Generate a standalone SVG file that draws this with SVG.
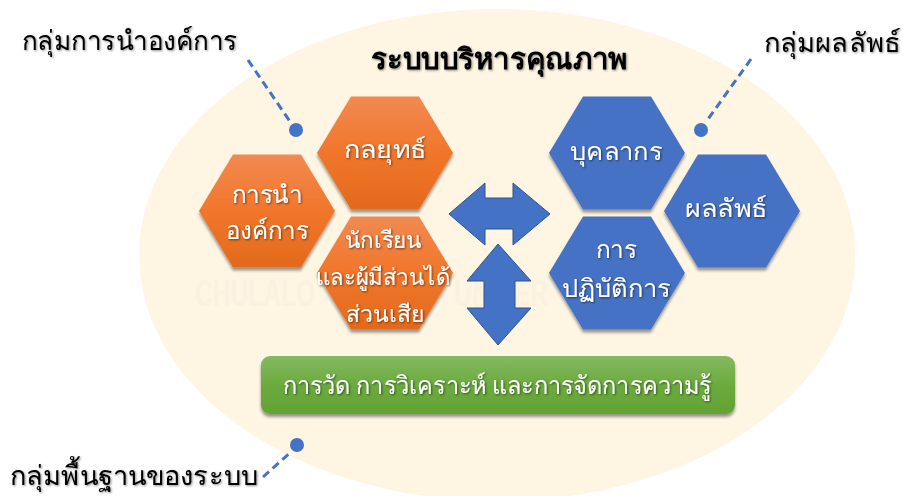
<svg xmlns="http://www.w3.org/2000/svg" width="903" height="496" viewBox="0 0 903 496">
<defs>
<linearGradient id="o" x1="0" y1="0" x2="0" y2="1"><stop offset="0" stop-color="#f18a52"/><stop offset=".5" stop-color="#f1762a"/><stop offset="1" stop-color="#e26a1c"/></linearGradient>
<linearGradient id="g" x1="0" y1="0" x2="0" y2="1"><stop offset="0" stop-color="#84b962"/><stop offset=".5" stop-color="#6cab3e"/><stop offset="1" stop-color="#62a334"/></linearGradient>
<filter id="s" x="-10%" y="-10%" width="120%" height="125%"><feDropShadow dx="0" dy="3" stdDeviation="1.8" flood-color="#000" flood-opacity=".4"/></filter>
<filter id="ts" x="-5%" y="-10%" width="110%" height="120%"><feDropShadow dx="1" dy="1" stdDeviation="1" flood-color="#000" flood-opacity=".55"/></filter>
<filter id="ks" x="-5%" y="-10%" width="110%" height="120%"><feDropShadow dx="1" dy="1" stdDeviation="1" flood-color="#000" flood-opacity=".45"/></filter>
<polygon id="hex" points="-68,0 -34,-56.500 34,-56.500 68,0 34,56.500 -34,56.500"/>
</defs>
<style>
text{font-family:"Noto Sans","DejaVu Sans",sans-serif;text-anchor:middle}
.w{fill:#fff;font-size:25px;filter:url(#ts)}
.m{font-size:23px}
.k{fill:#000;font-size:27px;filter:url(#ks)}
.wm{fill:#faf1de;font-weight:700;font-size:36px;font-family:"Liberation Sans",sans-serif}
.c{fill:none;stroke:#4472c4;stroke-width:3;stroke-dasharray:8 5}
.d{fill:#4472c4}
.a{fill:#4472c4;stroke:#2f528f;stroke-width:1}
.orange{fill:url(#o);filter:url(#s)}
.blue{fill:#4472c4;filter:url(#s)}
</style>
<rect width="903" height="496" fill="#fff"/>
<ellipse cx="497" cy="255" rx="358" ry="246" fill="#fef5e3"/>
<text class="wm" x="255" y="306" textLength="120" lengthAdjust="spacingAndGlyphs">CHULALO</text>
<text class="wm" x="501" y="306" textLength="94" lengthAdjust="spacingAndGlyphs">UNIVER</text>
<g id="connectors">
<line class="c" x1="248" y1="60" x2="291" y2="123"/>
<circle class="d" cx="296" cy="130" r="7"/>
<line class="c" x1="751" y1="59" x2="706" y2="122"/>
<circle class="d" cx="701" cy="130" r="7"/>
<line class="c" x1="263" y1="477" x2="292" y2="451"/>
<circle class="d" cx="297" cy="445" r="7"/>
<polygon id="arrow-h" class="a" points="449,214 485,183 485,198 513,198 513,183 550,214 513,245 513,229 485,229 485,245"/>
<polygon id="arrow-v" class="a" points="498,244 531,281 515,281 515,308 531,308 498,345 467,308 484,308 484,281 467,281"/>
</g>
<g id="title"><text class="k" x="499" y="69" font-weight="700" style="font-size:29px" textLength="257" lengthAdjust="spacingAndGlyphs">ระบบบริหารคุณภาพ</text></g>
<g id="label-leadership"><text class="k" x="130" y="50" textLength="216" lengthAdjust="spacingAndGlyphs">กลุ่มการนำองค์การ</text></g>
<g id="label-results"><text class="k" x="832" y="52" textLength="137" lengthAdjust="spacingAndGlyphs">กลุ่มผลลัพธ์</text></g>
<g id="label-foundation"><text class="k" x="134" y="485" textLength="248" lengthAdjust="spacingAndGlyphs">กลุ่มพื้นฐานของระบบ</text></g>
<g id="node-strategy"><use href="#hex" class="orange" x="385" y="153"/><text class="w" x="385" y="158" textLength="82" lengthAdjust="spacingAndGlyphs">กลยุทธ์</text></g>
<g id="node-leadership"><use href="#hex" class="orange" x="267" y="211"/><text class="w" x="267" y="203" textLength="71" lengthAdjust="spacingAndGlyphs">การนำ</text><text class="w" x="267" y="239" textLength="83" lengthAdjust="spacingAndGlyphs">องค์การ</text></g>
<g id="node-students"><use href="#hex" class="orange" x="385" y="273"/><text class="w m" x="383" y="248" textLength="77" lengthAdjust="spacingAndGlyphs">นักเรียน</text><text class="w m" x="383" y="285" textLength="134" lengthAdjust="spacingAndGlyphs">และผู้มีส่วนได้</text><text class="w m" x="385" y="322" textLength="78" lengthAdjust="spacingAndGlyphs">ส่วนเสีย</text></g>
<g id="node-personnel"><use href="#hex" class="blue" x="617" y="153"/><text class="w" x="616" y="160" textLength="92" lengthAdjust="spacingAndGlyphs">บุคลากร</text></g>
<g id="node-results"><use href="#hex" class="blue" x="732" y="211"/><text class="w" x="726" y="217" textLength="82" lengthAdjust="spacingAndGlyphs">ผลลัพธ์</text></g>
<g id="node-process"><use href="#hex" class="blue" x="617" y="273"/><text class="w" x="616" y="258" textLength="41" lengthAdjust="spacingAndGlyphs">การ</text><text class="w" x="616" y="297" textLength="109" lengthAdjust="spacingAndGlyphs">ปฏิบัติการ</text></g>
<g id="node-measure"><rect x="261" y="356" width="474" height="58" rx="9" fill="url(#g)" filter="url(#s)"/><text class="w" x="497" y="394" textLength="429" lengthAdjust="spacingAndGlyphs">การวัด การวิเคราะห์ และการจัดการความรู้</text></g>
</svg>
